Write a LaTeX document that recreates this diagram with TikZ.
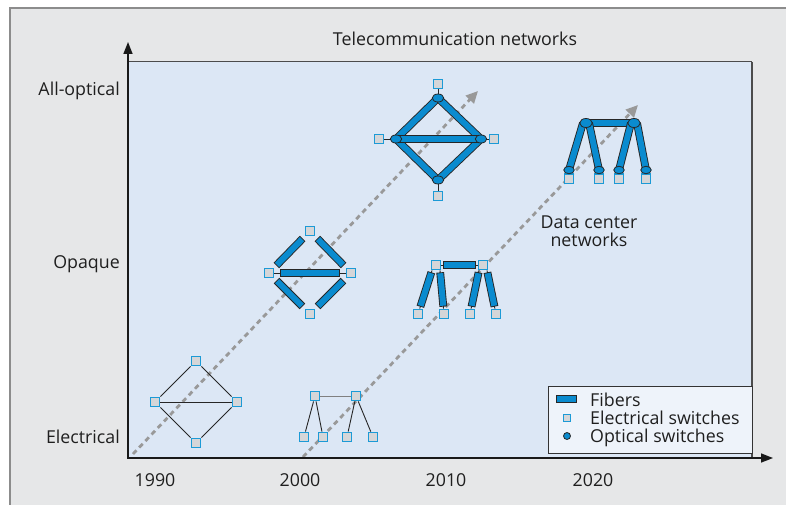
\documentclass[tikz,border=0pt]{standalone}
\usepackage{fontspec}
\setmainfont{Open Sans}
\usepackage{xcolor}
\usetikzlibrary{positioning,shapes.geometric,arrows.meta}

\definecolor{fibblue}{HTML}{0A8BCF}
\definecolor{swblue}{HTML}{1C9AD6}
\definecolor{swgray}{HTML}{D5D6D8}
\definecolor{panelblue}{HTML}{DCE7F5}
\definecolor{framegray}{HTML}{E6E7E8}
\definecolor{keyfill}{HTML}{EEF3FA}

\pgfdeclarelayer{back}
\pgfdeclarelayer{fibre}
\pgfsetlayers{back,fibre,main}

\begin{document}
\begin{tikzpicture}[
        x = 1pt, y = -1pt,
        node distance = 41pt,
        thick,
        esw/.style = {draw=swblue, fill=swgray, line width=1.4pt, minimum size=9.4pt, inner sep=0pt},
        osw/.style = {ellipse, draw=black!85, fill=fibblue, line width=0.8pt, minimum width=11.5pt, minimum height=8pt, inner sep=0pt},
        fiber/.style = {draw=black!85, line width=7.8pt, shorten <=#1, shorten >=#1,
            postaction={draw=fibblue, line width=6pt, shorten <=#1+0.9pt, shorten >=#1+0.9pt}},
        fiber/.default = 0pt,
        link/.style = {draw=black!85, line width=0.9pt},
        trend/.style = {draw=black!40, line width=2.8pt, dash pattern=on 5pt off 4pt, -{Triangle[length=12pt,width=11pt]}},
        axis/.style = {draw=black!90, line width=1.6pt, {Triangle[length=12pt,width=9pt]}-{Triangle[length=12pt,width=9pt]}},
        lab/.style = {font=\fontsize{17.8}{20}\selectfont, text=black!88, inner sep=0pt}]
        \useasboundingbox (0,0) rectangle (786,505);

        % BACKGROUND
        \begin{pgfonlayer}{back}
        \fill[white] (0,0) rectangle (786,505);
        \fill[framegray] (10,8) rectangle (786,505);
        \draw[black!45, line width=1.5pt] (10,505) -- (10,8) -- (786,8);
        \fill[panelblue] (128,62) rectangle (752,458);
        \draw[black!70, line width=1pt] (128,62) -- (752,62);
        \draw[black!70, line width=1.8pt] (752,62) -- (752,458);
        % trend arrows
        \coordinate (s1) at (133,454);
        \coordinate (e1) at (478,91);
        \coordinate (s2) at (303,457);
        \coordinate (e2) at (638,105);
        \draw[trend] (s1) -- (e1);
        \draw[trend] (s2) -- (e2);
        \end{pgfonlayer}

        % AXES
        \coordinate (O) at (128,458);
        \coordinate (ymax) at (128,42);
        \coordinate (xmax) at (773,458);
        \draw[axis] (ymax) -- (O) -- (xmax);

        % LABELS
        \node[lab, anchor=base] (title) at (455,46) {Telecommunication networks};
        \node[lab, anchor=base east] (yopt) at (120,96) {All-optical};
        \node[lab, anchor=base east] (yopq) at (120,268) {Opaque};
        \node[lab, anchor=base east] (yele) at (120,443) {Electrical};
        \node[lab, anchor=base] (x1990) at (155,486) {1990};
        \node[lab, anchor=base] (x2000) at (300,486) {2000};
        \node[lab, anchor=base] (x2010) at (446,486) {2010};
        \node[lab, anchor=base] (x2020) at (593,486) {2020};
        \node[lab, anchor=base] (dc1) at (589,228) {Data center};
        \node[lab, anchor=base] (dc2) at (589,246) {networks};

        % NODES
        % optical ring
        \coordinate (oC) at (438,139);
        \node[osw, above of = oC] (oT) {};
        \node[osw, below of = oC] (oB) {};
        \node[osw, left of = oC, node distance = 42pt] (oL) {};
        \node[osw, right of = oC, node distance = 43pt] (oR) {};
        \node[esw, above of = oT, node distance = 14pt] (oTs) {};
        \node[esw, below of = oB, node distance = 16pt] (oBs) {};
        \node[esw, left of = oL, node distance = 17pt] (oLs) {};
        \node[esw, right of = oR, node distance = 13pt] (oRs) {};
        % opaque ring
        \coordinate (pC) at (310,273);
        \node[esw, above of = pC, node distance = 42pt] (pT) {};
        \node[esw, below of = pC] (pB) {};
        \node[esw, left of = pC] (pL) {};
        \node[esw, right of = pC] (pR) {};
        % electrical ring
        \coordinate (eC) at (196,402);
        \node[esw, above of = eC] (eT) {};
        \node[esw, below of = eC] (eB) {};
        \node[esw, left of = eC] (eL) {};
        \node[esw, right of = eC] (eR) {};
        % electrical tree
        \node[esw] (bT1) at (315,396) {};
        \node[esw, right of = bT1] (bT2) {};
        \node[esw, below of = bT1, xshift = -11pt] (bL1) {};
        \node[esw, below of = bT1, xshift = 8pt] (bL2) {};
        \node[esw, below of = bT2, xshift = -9pt] (bL3) {};
        \node[esw, below of = bT2, xshift = 17pt] (bL4) {};
        % opaque tree
        \node[esw] (mT1) at (436,265) {};
        \node[esw, right of = mT1, node distance = 47pt] (mT2) {};
        \node[esw, below of = mT1, node distance = 49pt, xshift = -18pt] (mL1) {};
        \node[esw, below of = mT1, node distance = 49pt, xshift = 8pt] (mL2) {};
        \node[esw, below of = mT2, node distance = 49pt, xshift = -13pt] (mL3) {};
        \node[esw, below of = mT2, node distance = 49pt, xshift = 13pt] (mL4) {};
        % data center tree
        \node[osw, minimum width = 12.5pt, minimum height = 9pt] (dT1) at (586,123) {};
        \node[osw, minimum width = 12.5pt, minimum height = 9pt, right of = dT1, node distance = 48pt] (dT2) {};
        \node[esw, below of = dT1, node distance = 55.5pt, xshift = -17pt] (dS1) {};
        \node[esw, below of = dT1, node distance = 55.5pt, xshift = 13pt] (dS2) {};
        \node[esw, below of = dT2, node distance = 55.5pt, xshift = -15pt] (dS3) {};
        \node[esw, below of = dT2, node distance = 55.5pt, xshift = 12pt] (dS4) {};
        \node[osw, minimum width = 10.5pt, minimum height = 7.5pt, above of = dS1, node distance = 8.5pt] (dL1) {};
        \node[osw, minimum width = 10.5pt, minimum height = 7.5pt, above of = dS2, node distance = 8.5pt] (dL2) {};
        \node[osw, minimum width = 10.5pt, minimum height = 7.5pt, above of = dS3, node distance = 8.5pt] (dL3) {};
        \node[osw, minimum width = 10.5pt, minimum height = 7.5pt, above of = dS4, node distance = 8.5pt] (dL4) {};

        % FIBERS
        \begin{pgfonlayer}{fibre}
        % optical ring
        \draw[fiber] (oT.center) -- (oL.center);
        \draw[fiber] (oL.center) -- (oB.center);
        \draw[fiber] (oB.center) -- (oR.center);
        \draw[fiber] (oR.center) -- (oT.center);
        \draw[fiber] (oL.center) -- (oR.center);
        % opaque ring
        \draw[fiber=3pt] (pT) -- (pL);
        \draw[fiber=3pt] (pL) -- (pB);
        \draw[fiber=3pt] (pB) -- (pR);
        \draw[fiber=3pt] (pR) -- (pT);
        \draw[link] (pL) -- (pR);
        \draw[fiber=6pt] (pL) -- (pR);
        % opaque tree
        \draw[link] (mT1) -- (mT2);
        \draw[fiber=1.5pt] (mT1) -- (mT2);
        \draw[link] ([xshift=-4pt]mT1.south) -- (mL1);
        \draw[link] ([xshift=4pt]mT1.south) -- (mL2);
        \draw[link] ([xshift=-4pt]mT2.south) -- (mL3);
        \draw[link] ([xshift=4pt]mT2.south) -- (mL4);
        \draw[fiber=2pt] ([xshift=-4pt]mT1.south) -- (mL1);
        \draw[fiber=2pt] ([xshift=4pt]mT1.south) -- (mL2);
        \draw[fiber=2pt] ([xshift=-4pt]mT2.south) -- (mL3);
        \draw[fiber=2pt] ([xshift=4pt]mT2.south) -- (mL4);
        % data center tree
        \draw[fiber] (dT1.center) -- (dT2.center);
        \draw[fiber] ([xshift=-3pt]dT1.center) -- (dL1.center);
        \draw[fiber] ([xshift=3pt]dT1.center) -- (dL2.center);
        \draw[fiber] ([xshift=-3pt]dT2.center) -- (dL3.center);
        \draw[fiber] ([xshift=3pt]dT2.center) -- (dL4.center);
        \end{pgfonlayer}

        % LINKS
        \draw[link] (oTs) -- (oT);
        \draw[link] (oBs) -- (oB);
        \draw[link] (oLs) -- (oL);
        \draw[link] (oRs) -- (oR);
        \draw[link] (eT) -- (eL) -- (eB) -- (eR) -- (eT);
        \draw[link] (eL) -- (eR);
        \draw[link, draw=black!50] (bT1) -- (bT2);
        \draw[link] (bT1) -- (bL1);
        \draw[link] (bT1) -- (bL2);
        \draw[link] (bT2) -- (bL3);
        \draw[link] (bT2) -- (bL4);

        % LEGEND
        \node[draw=black!80, fill=keyfill, line width=1pt, minimum width=204pt, minimum height=67pt, inner sep=0pt] (key) at (650,419.5) {};
        \node[fill=fibblue, draw=black!85, line width=0.8pt, minimum width=20pt, minimum height=7.5pt, inner sep=0pt] (kF) at (566,399) {};
        \node[esw, minimum size=6.5pt] (kE) at (567,418) {};
        \node[osw, circle, minimum size=7pt] (kO) at (567,436) {};
        \node[lab, anchor=base west] (tF) at (590,406) {Fibers};
        \node[lab, anchor=base west] (tE) at (590,424) {Electrical switches};
        \node[lab, anchor=base west] (tO) at (590,442.5) {Optical switches};
    \end{tikzpicture}
\end{document}
